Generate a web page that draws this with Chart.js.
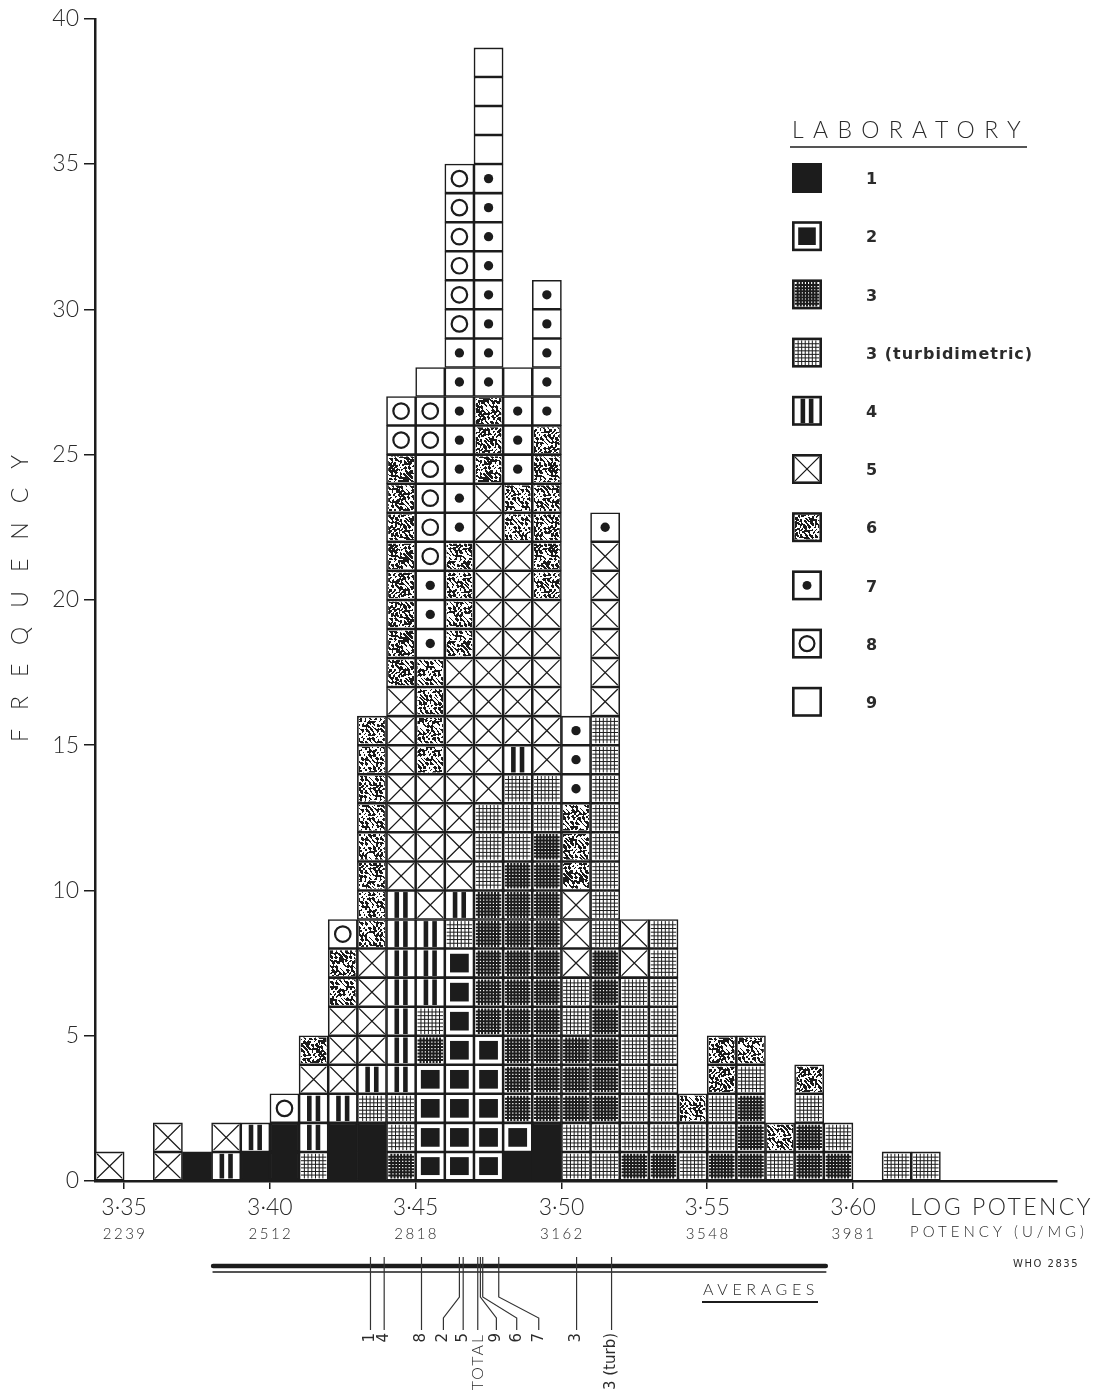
<!DOCTYPE html>
<html>
<head>
<meta charset="utf-8">
<script src="https://cdn.jsdelivr.net/npm/chart.js@4.4.1/dist/chart.umd.min.js"></script>
<style>
  html, body { margin: 0; background: #fff; }
  #wrap { width: 1110px; height: 1398px; }
</style>
</head>
<body>
<div id="wrap"><canvas id="c" width="1110" height="1398"></canvas></div>
<script>
// lower edge of each 0.01 log-potency class
const binStarts = [3.34, 3.35, 3.36, 3.37, 3.38, 3.39, 3.40, 3.41, 3.42, 3.43, 3.44, 3.45, 3.46, 3.47,
  3.48, 3.49, 3.50, 3.51, 3.52, 3.53, 3.54, 3.55, 3.56, 3.57, 3.58, 3.59, 3.60, 3.61, 3.62];

// squares in each class, bottom to top, as [laboratory, count]
const stacks = [
  [['5', 1]],
  [],
  [['5', 2]],
  [['1', 1]],
  [['4', 1], ['5', 1]],
  [['1', 1], ['4', 1]],
  [['1', 2], ['8', 1]],
  [['3t', 1], ['4', 2], ['5', 1], ['6', 1]],
  [['1', 2], ['4', 1], ['5', 3], ['6', 2], ['8', 1]],
  [['1', 2], ['3t', 1], ['4', 1], ['5', 4], ['6', 8]],
  [['3', 1], ['3t', 2], ['4', 7], ['5', 7], ['6', 8], ['8', 2]],
  [['2', 4], ['3', 1], ['3t', 1], ['4', 3], ['5', 5], ['6', 4], ['7', 3], ['8', 6], ['9', 1]],
  [['2', 8], ['3t', 1], ['4', 1], ['5', 8], ['6', 4], ['7', 7], ['8', 6]],
  [['2', 5], ['3', 5], ['3t', 3], ['5', 11], ['6', 3], ['7', 8], ['9', 4]],
  [['1', 1], ['2', 1], ['3', 9], ['3t', 3], ['4', 1], ['5', 7], ['6', 2], ['7', 3], ['9', 1]],
  [['1', 2], ['3', 10], ['3t', 2], ['5', 6], ['6', 6], ['7', 5]],
  [['3t', 2], ['3', 3], ['3t', 2], ['5', 3], ['6', 3], ['7', 3]],
  [['3t', 2], ['3', 6], ['3t', 8], ['5', 6], ['7', 1]],
  [['3', 1], ['3t', 6], ['5', 2]],
  [['3', 1], ['3t', 8]],
  [['3t', 2], ['6', 1]],
  [['3', 1], ['3t', 2], ['6', 2]],
  [['3', 3], ['3t', 1], ['6', 1]],
  [['3t', 1], ['6', 1]],
  [['3', 2], ['3t', 1], ['6', 1]],
  [['3', 1], ['3t', 1]],
  [],
  [['3t', 1]],
  [['3t', 1]]
];

const xTicks = [3.35, 3.40, 3.45, 3.50, 3.55, 3.60];
const potencyLabels = ['2239', '2512', '2818', '3162', '3548', '3981'];

const labCodes = ['1', '2', '3', '3t', '4', '5', '6', '7', '8', '9'];
const labNames = ['1', '2', '3', '3 (turbidimetric)', '4', '5', '6', '7', '8', '9'];

// averages (log potency) and their labels
const avgNames = ['1', '4', '8', '2', '5', 'TOTAL', '9', '6', '7', '3', '3 (turb)'];
const avgValues = [3.4345, 3.4392, 3.4520, 3.4650, 3.4663, 3.4713, 3.4722, 3.4730, 3.4785, 3.5052, 3.5172];
const avgLabelShift = [0, 0, 0, -16, 0, 0, 16, 34, 40, 0, 0]; // px, where leaders bend
const avgSpan = [3.3805, 3.5907];

const ink = '#1c1c1c';
const textCol = '#2b2b2b';
const thin = "'Lato', 'DejaVu Sans', sans-serif";

// expand runs into one dataset per row of squares
const cells = stacks.map(runs => {
  const out = [];
  runs.forEach(([lab, n]) => { for (let k = 0; k < n; k++) out.push(lab); });
  return out;
});
const maxRows = Math.max(...cells.map(c => c.length));
const datasets = [];
for (let r = 0; r < maxRows; r++) {
  const data = [];
  cells.forEach((c, i) => {
    if (c.length > r) data.push({ x: +(binStarts[i] + 0.005).toFixed(3), y: 1, lab: c[r] });
  });
  datasets.push({
    data,
    backgroundColor: ctx => (ctx.raw && ctx.raw.lab === '1') ? ink : '#fff',
    borderColor: ink,
    borderWidth: 1.6,
    borderSkipped: false
  });
}

// mottled texture for laboratory 6
const mottle = (() => {
  const t = document.createElement('canvas');
  t.width = 80; t.height = 80;
  const g = t.getContext('2d');
  const img = g.createImageData(80, 80);
  for (let y = 0; y < 80; y++) {
    for (let x = 0; x < 80; x++) {
      const v = Math.sin(0.82 * x + 2.6 * Math.sin(0.37 * y + 0.5)) * Math.cos(0.77 * y + 2.3 * Math.sin(0.43 * x))
        + 0.35 * Math.sin(1.3 * x - 0.9 * y);
      const on = v > -0.08;
      const p = (y * 80 + x) * 4;
      const c = on ? 28 : 255;
      img.data[p] = c; img.data[p + 1] = c; img.data[p + 2] = c; img.data[p + 3] = 255;
    }
  }
  g.putImageData(img, 0, 0);
  return t;
})();

function grid(ctx, x0, y0, w, h, n, lw) {
  ctx.lineWidth = lw;
  ctx.beginPath();
  for (let k = 1; k < n; k++) {
    const gx = x0 + k * w / n, gy = y0 + k * h / n;
    ctx.moveTo(gx, y0); ctx.lineTo(gx, y0 + h);
    ctx.moveTo(x0, gy); ctx.lineTo(x0 + w, gy);
  }
  ctx.stroke();
}

// draws the inside of a square (area inside its frame)
function drawCell(ctx, lab, x0, y0, w, h) {
  const cx = x0 + w / 2, cy = y0 + h / 2;
  ctx.save();
  ctx.beginPath(); ctx.rect(x0, y0, w, h); ctx.clip();
  ctx.fillStyle = ink; ctx.strokeStyle = ink;
  if (lab === '1') {
    ctx.fillRect(x0, y0, w, h);
  } else if (lab === '2') {
    const m = 3.6;
    ctx.fillRect(x0 + m, y0 + m, w - 2 * m, h - 2 * m);
  } else if (lab === '3') {
    grid(ctx, x0, y0, w, h, 8, 2.0);
  } else if (lab === '3t') {
    grid(ctx, x0, y0, w, h, 7, 1.0);
  } else if (lab === '4') {
    [1 / 3, 2 / 3].forEach(f => ctx.fillRect(x0 + f * w - 2.3, y0, 4.6, h));
  } else if (lab === '5') {
    ctx.lineWidth = 1.3;
    ctx.beginPath();
    ctx.moveTo(x0, y0); ctx.lineTo(x0 + w, y0 + h);
    ctx.moveTo(x0 + w, y0); ctx.lineTo(x0, y0 + h);
    ctx.stroke();
  } else if (lab === '6') {
    ctx.fillStyle = ctx.createPattern(mottle, 'repeat');
    ctx.fillRect(x0, y0, w, h);
  } else if (lab === '7') {
    ctx.beginPath(); ctx.arc(cx, cy, Math.min(w, h) * 0.18, 0, Math.PI * 2); ctx.fill();
  } else if (lab === '8') {
    ctx.lineWidth = 2.2;
    ctx.beginPath(); ctx.arc(cx, cy, Math.min(w, h) * 0.3, 0, Math.PI * 2); ctx.stroke();
  }
  ctx.restore();
}

function spaced(ctx, text, x, y, width) {
  ctx.letterSpacing = '0px';
  const w = ctx.measureText(text).width;
  ctx.letterSpacing = Math.max(0, (width - w) / text.length) + 'px';
  ctx.fillText(text, x, y);
  ctx.letterSpacing = '0px';
}

const cellPlugin = {
  id: 'cells',
  afterDatasetsDraw(chart) {
    const ctx = chart.ctx;
    chart.data.datasets.forEach((ds, i) => {
      const meta = chart.getDatasetMeta(i);
      meta.data.forEach((el, j) => {
        const lab = ds.data[j].lab;
        if (lab === '9' || lab === '1') return;
        const { x, y, base, width } = el.getProps(['x', 'y', 'base', 'width'], true);
        const b = ds.borderWidth;
        const top = Math.min(y, base);
        drawCell(ctx, lab, x - width / 2 + b, top + b, width - 2 * b, Math.abs(base - y) - 2 * b);
      });
    });
  }
};

const decorPlugin = {
  id: 'decor',
  afterDraw(chart) {
    const ctx = chart.ctx;
    const xs = chart.scales.x;
    ctx.save();
    ctx.fillStyle = textCol;
    ctx.strokeStyle = ink;

    // y title
    ctx.save();
    ctx.translate(21, 598);
    ctx.rotate(-Math.PI / 2);
    ctx.font = `300 23px ${thin}`;
    ctx.textAlign = 'center'; ctx.textBaseline = 'middle';
    ctx.letterSpacing = '19px';
    ctx.fillText('FREQUENCY', 9, 0);
    ctx.restore();

    // potency row under the log ticks
    ctx.font = `300 15px ${thin}`;
    ctx.textAlign = 'center'; ctx.textBaseline = 'middle';
    ctx.letterSpacing = '2.5px';
    xTicks.forEach((v, i) => ctx.fillText(potencyLabels[i], xs.getPixelForValue(v) + 1, 1234));
    ctx.letterSpacing = '0px';

    ctx.textAlign = 'left';
    ctx.font = `300 23px ${thin}`;
    spaced(ctx, 'LOG POTENCY', 910, 1208, 183);
    ctx.font = `300 15px ${thin}`;
    spaced(ctx, 'POTENCY (U/MG)', 910, 1232, 178);

    ctx.font = `10px 'DejaVu Sans', sans-serif`;
    spaced(ctx, 'WHO 2835', 1013, 1264, 66);

    // legend
    ctx.font = `300 23px ${thin}`;
    spaced(ctx, 'LABORATORY', 792, 131, 238);
    ctx.lineWidth = 1.6;
    ctx.beginPath(); ctx.moveTo(790, 147); ctx.lineTo(1027, 147); ctx.stroke();
    labCodes.forEach((lab, i) => {
      const cy = 178 + i * 58.2;
      const sx = 792, sy = cy - 15, s = 30;
      if (lab === '1') {
        ctx.fillStyle = ink; ctx.fillRect(sx, sy, s, s);
      } else {
        ctx.fillStyle = '#fff'; ctx.fillRect(sx, sy, s, s);
        ctx.lineWidth = 2.6; ctx.strokeRect(sx + 1.3, sy + 1.3, s - 2.6, s - 2.6);
        drawCell(ctx, lab, sx + 2.6, sy + 2.6, s - 5.2, s - 5.2);
      }
      ctx.fillStyle = textCol;
      ctx.font = `bold 16px 'DejaVu Sans', sans-serif`;
      ctx.textBaseline = 'middle';
      ctx.letterSpacing = '1px';
      ctx.fillText(labNames[i], 866, cy + 2);
      ctx.letterSpacing = '0px';
    });

    // averages bar
    const a0 = xs.getPixelForValue(avgSpan[0]), a1 = xs.getPixelForValue(avgSpan[1]);
    ctx.lineCap = 'round';
    ctx.lineWidth = 4.5;
    ctx.beginPath(); ctx.moveTo(a0, 1266); ctx.lineTo(a1, 1266); ctx.stroke();
    ctx.lineWidth = 1.5;
    ctx.beginPath(); ctx.moveTo(a0, 1272); ctx.lineTo(a1, 1272); ctx.stroke();
    ctx.lineCap = 'butt';

    ctx.font = `300 16px ${thin}`;
    ctx.textAlign = 'left';
    spaced(ctx, 'AVERAGES', 703, 1290, 116);
    ctx.lineWidth = 1.8;
    ctx.beginPath(); ctx.moveTo(702, 1302); ctx.lineTo(818, 1302); ctx.stroke();

    ctx.lineWidth = 1.2;
    ctx.strokeStyle = '#333';
    avgValues.forEach((v, i) => {
      const px = xs.getPixelForValue(v);
      const lx = px + avgLabelShift[i];
      ctx.beginPath();
      ctx.moveTo(px, 1257);
      if (avgLabelShift[i] !== 0) {
        ctx.lineTo(px, 1297);
        ctx.lineTo(lx, 1318);
      }
      ctx.lineTo(lx, 1330);
      ctx.stroke();
      ctx.save();
      ctx.translate(lx, 1333);
      ctx.rotate(-Math.PI / 2);
      ctx.textAlign = 'right'; ctx.textBaseline = 'middle';
      ctx.fillStyle = textCol;
      ctx.font = avgNames[i] === 'TOTAL' ? `300 16px ${thin}` : `15px 'DejaVu Sans', sans-serif`;
      if (avgNames[i] === 'TOTAL') ctx.letterSpacing = '2px';
      ctx.fillText(avgNames[i], 0, 0);
      ctx.letterSpacing = '0px';
      ctx.restore();
    });
    ctx.restore();
  }
};

new Chart(document.getElementById('c'), {
  type: 'bar',
  data: { datasets },
  options: {
    responsive: false,
    animation: false,
    layout: { padding: { top: 18, right: 53, left: 0, bottom: 0 } },
    plugins: { legend: { display: false }, tooltip: { enabled: false } },
    datasets: { bar: { barPercentage: 1, categoryPercentage: 1 } },
    scales: {
      x: {
        type: 'linear', stacked: true, offset: false, min: 3.34, max: 3.67,
        afterBuildTicks: s => { s.ticks = xTicks.map(v => ({ value: v })); },
        afterFit: s => { s.height = 217; },
        grid: { drawOnChartArea: false, offset: false, tickLength: 8, color: ink, lineWidth: 1.5 },
        border: { color: ink, width: 2.5 },
        ticks: {
          autoSkip: false, maxRotation: 0, padding: 5, color: textCol,
          font: { family: thin, size: 23, weight: 300 },
          callback: v => v.toFixed(2).replace('.', '·')
        }
      },
      y: {
        stacked: true, min: 0, max: 40,
        afterFit: s => { s.width = 95; },
        grid: { drawOnChartArea: false, tickLength: 11, color: ink, lineWidth: 1.5 },
        border: { color: ink, width: 2.5 },
        ticks: { stepSize: 5, padding: 5, color: textCol, font: { family: thin, size: 23, weight: 300 } }
      }
    }
  },
  plugins: [cellPlugin, decorPlugin]
});
</script>
</body>
</html>
